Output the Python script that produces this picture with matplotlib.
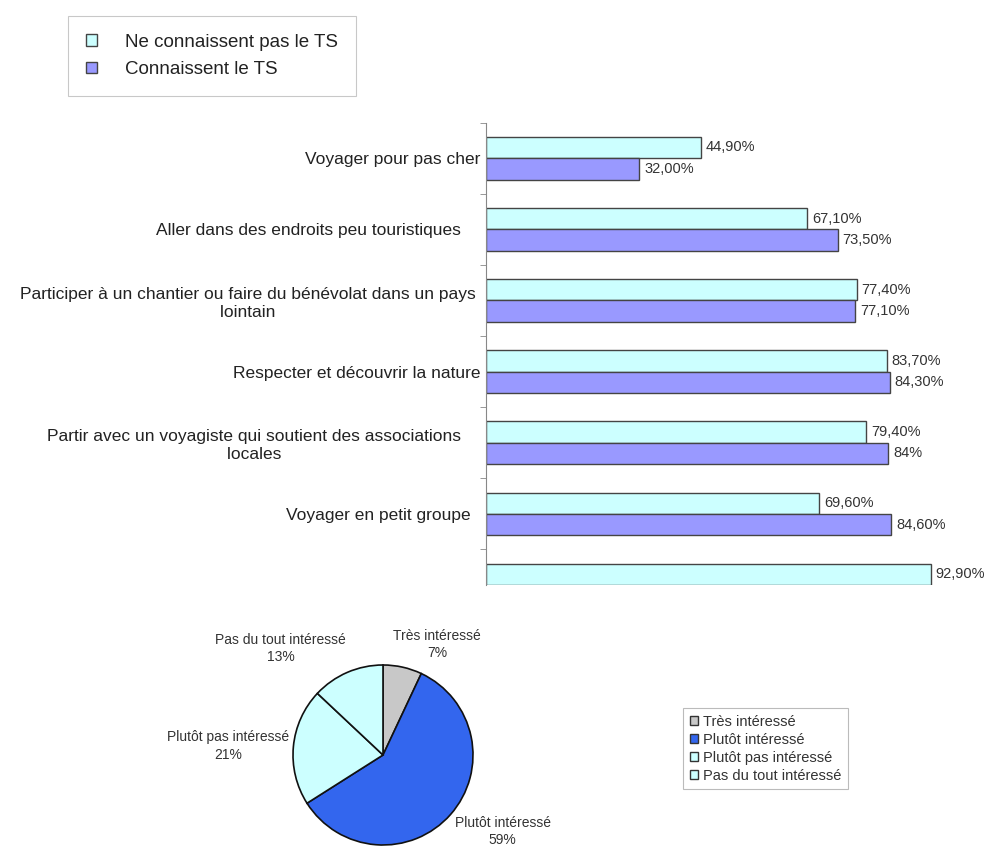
import numpy as np
import matplotlib.pyplot as plt
from matplotlib.patches import Patch

plt.rcParams['font.family'] = ['Liberation Sans', 'DejaVu Sans']

W, H = 984, 847

# barres : intérêt pour ... selon la connaissance du TS
categories = ["Voyager pour pas cher",
              "Aller dans des endroits peu touristiques    ",
              "Participer à un chantier ou faire du bénévolat dans un pays \nlointain ",
              "Respecter et découvrir la nature",
              "Partir avec un voyagiste qui soutient des associations    \nlocales    ",
              "Voyager en petit groupe  ",
              ""]
ne_connaissent = [44.9, 67.1, 77.4, 83.7, 79.4, 69.6, 92.9]
connaissent = [32.0, 73.5, 77.1, 84.3, 84.0, 84.6, np.nan]
ne_labels = ["44,90%", "67,10%", "77,40%", "83,70%", "79,40%", "69,60%", "92,90%"]
co_labels = ["32,00%", "73,50%", "77,10%", "84,30%", "84%", "84,60%", ""]
series_names = ["Ne connaissent pas le TS", "Connaissent le TS"]

# camembert
pie_names = ["Très intéressé", "Plutôt intéressé", "Plutôt pas intéressé", "Pas du tout intéressé"]
pie_values = [7, 59, 21, 13]
pie_colors = ['#c8c8c8', '#3366ee', '#ccffff', '#ccffff']


def box(l, t, r, b):
    return [l / W, 1 - b / H, (r - l) / W, (b - t) / H]


fig = plt.figure(figsize=(W / 100, H / 100), dpi=100)

# --- bar chart ---
ax = fig.add_axes(box(486, 122.6, 984, 585))
y = np.arange(len(categories))
ne = np.array(ne_connaissent)
co = np.array(connaissent)
ok = ~np.isnan(co)
ax.barh(y - 0.15, ne, height=0.3, color='#ccffff', edgecolor='#444444', linewidth=1)
ax.barh(y[ok] + 0.15, co[ok], height=0.3, color='#9999ff', edgecolor='#444444', linewidth=1)
for i in range(len(categories)):
    ax.text(ne[i] + 1, y[i] - 0.15, ne_labels[i], va='center', ha='left', fontsize=10.5, color='#333333')
    if ok[i]:
        ax.text(co[i] + 1, y[i] + 0.15, co_labels[i], va='center', ha='left', fontsize=10.5, color='#333333')
ax.set_xlim(0, 104)
ax.set_ylim(5.86, -0.5)
ax.set_yticks(y)
ax.set_yticklabels(categories, fontsize=12.5, color='#222222', multialignment='center', linespacing=1.25)
ax.tick_params(axis='y', length=0, pad=4)
ax.set_yticks(np.arange(-0.5, 6.5, 1), minor=True)
ax.tick_params(axis='y', which='minor', length=4, color='#888888', direction='out')
ax.set_xticks([])
for s in ['top', 'right', 'bottom']:
    ax.spines[s].set_visible(False)
ax.spines['left'].set_color('#888888')

leg1 = fig.legend(handles=[Patch(facecolor='#ccffff', edgecolor='#444444'),
                           Patch(facecolor='#9999ff', edgecolor='#444444')],
                  labels=series_names, loc='upper left', bbox_to_anchor=(68 / W, 1 - 16 / H),
                  borderaxespad=0, fontsize=13.5, handlelength=0.6, handleheight=0.6, handletextpad=1.5,
                  labelspacing=0.55, borderpad=0.95, fancybox=False, edgecolor='#bbbbbb')
leg1.get_frame().set_linewidth(0.8)
for t in leg1.get_texts():
    t.set_color('#222222')

# --- pie chart ---
pax = fig.add_axes(box(383 - 112.5, 755 - 112.5, 383 + 112.5, 755 + 112.5))
pax.pie(pie_values, colors=pie_colors, startangle=90, counterclock=False,
        wedgeprops=dict(edgecolor='#111111', linewidth=1.2))
pax.set_xlim(-1.25, 1.25)
pax.set_ylim(-1.25, 1.25)
pax.set_aspect('equal')
label_pos = [(0.6, 1.23), (1.33, -0.85), (-1.72, 0.1), (-1.14, 1.18)]
for name, v, (lx, ly) in zip(pie_names, pie_values, label_pos):
    pax.text(lx, ly, f"{name}\n{v}%", ha='center', va='center', fontsize=10,
             color='#333333', linespacing=1.3, clip_on=False)

leg2 = fig.legend(handles=[Patch(facecolor=c, edgecolor='#333333') for c in pie_colors],
                  labels=pie_names, loc='upper left', bbox_to_anchor=(683 / W, 1 - 708 / H),
                  borderaxespad=0, fontsize=10.5, handlelength=0.6, handleheight=0.6, handletextpad=0.3,
                  labelspacing=0.28, borderpad=0.45, fancybox=False, edgecolor='#aaaaaa')
leg2.get_frame().set_linewidth(0.8)
for t in leg2.get_texts():
    t.set_color('#333333')

fig.savefig('out.png', dpi=100)
